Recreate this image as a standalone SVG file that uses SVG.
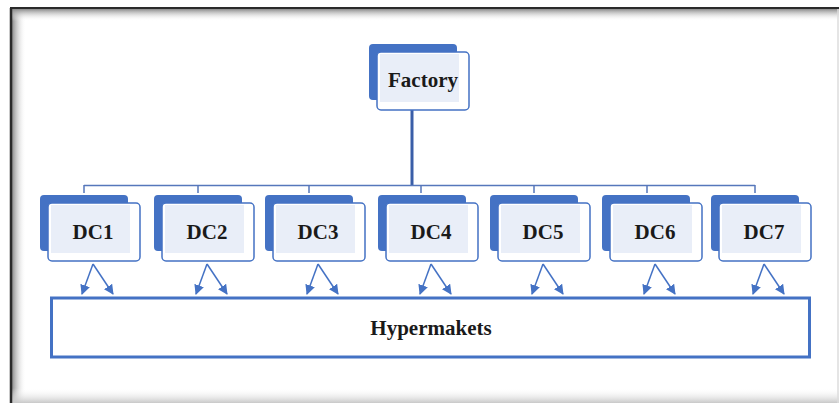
<svg xmlns="http://www.w3.org/2000/svg" width="839" height="403" viewBox="0 0 839 403">
<defs>
<linearGradient id="gl" x1="0" y1="0" x2="1" y2="0">
<stop offset="0" stop-color="#8a8a8a"/><stop offset="1" stop-color="#ffffff" stop-opacity="0"/>
</linearGradient>
<linearGradient id="gt" x1="0" y1="0" x2="0" y2="1">
<stop offset="0" stop-color="#8a8a8a"/><stop offset="1" stop-color="#ffffff" stop-opacity="0"/>
</linearGradient>
<linearGradient id="gb" x1="0" y1="0" x2="0" y2="1">
<stop offset="0" stop-color="#ffffff" stop-opacity="0"/><stop offset="1" stop-color="#c8c8c8"/>
</linearGradient>
<marker id="ah" viewBox="0 0 10 10" refX="9" refY="5" markerWidth="10" markerHeight="10" markerUnits="userSpaceOnUse" orient="auto">
<path d="M0,0 L10,5 L0,10 z" fill="#4472c4"/>
</marker>
<g id="dcbox">
<rect x="-8" y="-8" width="88" height="56" rx="4" fill="#4472c4"/>
<rect x="0" y="0" width="92" height="58" rx="4" fill="#ffffff" stroke="#4472c4" stroke-width="1.5"/>
<rect x="3" y="2" width="79" height="48" fill="#e9eef8"/>
</g>
</defs>
<style>
.t{font-family:"Liberation Serif","Times New Roman",serif;font-weight:bold;font-size:21px;fill:#1a1a1a;text-anchor:middle}
.bus{stroke:#5677bb;stroke-width:1.5;fill:none}
.arr{stroke:#4472c4;stroke-width:1.5;fill:none;marker-end:url(#ah)}
</style>
<rect width="839" height="403" fill="#ffffff"/>
<g id="frame">
<rect x="12" y="9" width="14" height="394" fill="url(#gl)"/>
<rect x="12" y="9" width="827" height="12" fill="url(#gt)"/>
<rect x="12" y="388" width="827" height="15" fill="url(#gb)"/>
<line x1="838" y1="9" x2="838" y2="403" stroke="#dcdcdc" stroke-width="1.5"/>
<line x1="10" y1="8" x2="839" y2="8" stroke="#2a2a2a" stroke-width="2"/>
<line x1="11" y1="8" x2="11" y2="403" stroke="#2a2a2a" stroke-width="2.5"/>
</g>
<g id="connectors">
<line x1="412" y1="110" x2="412" y2="186" stroke="#3a5ea8" stroke-width="3"/>
<line class="bus" x1="84" y1="185.5" x2="755" y2="185.5"/>
<path class="bus" d="M84,185 V193 M198,185 V193 M309,185 V193 M421,185 V193 M534,185 V193 M647,185 V193 M755,185 V193"/>
<g id="arrows">
<path class="arr" d="M93,264 L82,294"/><path class="arr" d="M93,264 L113,294"/>
<path class="arr" d="M207,264 L196,294"/><path class="arr" d="M207,264 L227,294"/>
<path class="arr" d="M318,264 L307,294"/><path class="arr" d="M318,264 L338,294"/>
<path class="arr" d="M431,264 L420,294"/><path class="arr" d="M431,264 L451,294"/>
<path class="arr" d="M543,264 L532,294"/><path class="arr" d="M543,264 L563,294"/>
<path class="arr" d="M655,264 L644,294"/><path class="arr" d="M655,264 L675,294"/>
<path class="arr" d="M764,264 L753,294"/><path class="arr" d="M764,264 L784,294"/>
</g>
</g>
<g id="factory">
<use href="#dcbox" x="377" y="52"/>
<text class="t" x="423" y="87">Factory</text>
</g>
<g id="dc1"><use href="#dcbox" x="48" y="203"/><text class="t" x="93" y="239">DC1</text></g>
<g id="dc2"><use href="#dcbox" x="162" y="203"/><text class="t" x="207" y="239">DC2</text></g>
<g id="dc3"><use href="#dcbox" x="273" y="203"/><text class="t" x="318" y="239">DC3</text></g>
<g id="dc4"><use href="#dcbox" x="386" y="203"/><text class="t" x="431" y="239">DC4</text></g>
<g id="dc5"><use href="#dcbox" x="498" y="203"/><text class="t" x="543" y="239">DC5</text></g>
<g id="dc6"><use href="#dcbox" x="610" y="203"/><text class="t" x="655" y="239">DC6</text></g>
<g id="dc7"><use href="#dcbox" x="719" y="203"/><text class="t" x="764" y="239">DC7</text></g>
<g id="hypermakets">
<rect x="51.5" y="298" width="758" height="59" fill="#ffffff" stroke="#4472c4" stroke-width="3"/>
<text class="t" x="431" y="335">Hypermakets</text>
</g>
</svg>
